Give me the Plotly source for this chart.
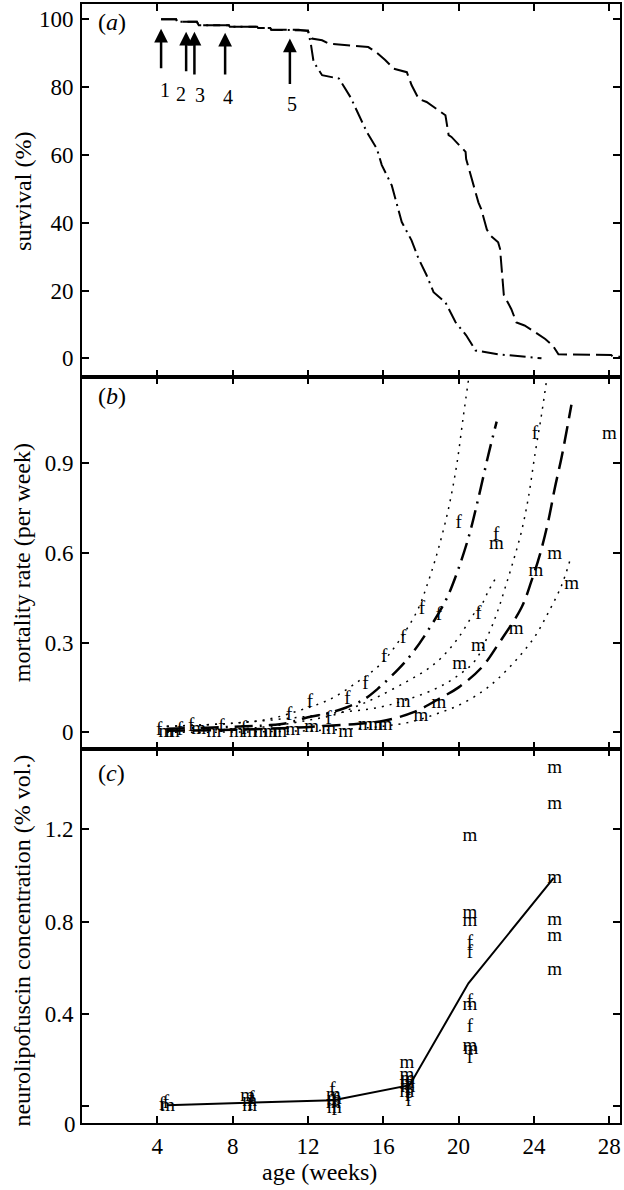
import plotly.graph_objects as go

FONT = "Liberation Serif"

# ---------------- panel (a): survival ----------------
early_weeks = [4.2, 5.0, 5.05, 6.1, 6.2, 7.8, 7.85, 9.3, 9.35, 10.0, 10.05, 11.5]
early_surv = [100, 100, 99.3, 99.3, 98.2, 98.2, 97.8, 97.8, 97.4, 97.4, 96.9, 96.9]

male_weeks = [12.0, 12.2, 12.75, 13.1, 15.2, 15.6, 16.1, 16.56, 17.25, 17.5, 17.88, 18.3,
              19.3, 19.47, 19.62, 20.37, 20.4, 21.05, 21.2, 21.5, 21.7, 22.1, 22.2, 22.4,
              22.6, 22.8, 23.07, 23.5, 24.07, 24.6, 25.0, 25.3, 28.1, 28.2, 28.57]
male_surv = [96.5, 94.3, 93.8, 92.8, 91.8, 90.4, 88.0, 85.4, 84.4, 80.6, 76.5, 75.6,
             71.7, 65.8, 65.3, 60.9, 58.8, 46.0, 44.0, 38.0, 36.2, 34.2, 32.3, 18.7,
             16.6, 14.5, 10.6, 9.7, 7.7, 5.7, 3.8, 1.2, 1.0, 0.5, 0.5]

female_weeks = [12.0, 12.15, 12.3, 12.75, 13.65, 14.26, 14.7, 15.13, 15.66, 15.92, 16.45,
                16.7, 16.98, 17.5, 17.88, 18.3, 18.67, 19.3, 19.57, 19.83, 20.4, 20.9,
                22.1, 24.2, 24.4]
female_surv = [96.7, 92.8, 87.4, 83.5, 82.5, 77.0, 71.7, 66.7, 61.8, 57.0, 51.0,
               46.0, 40.2, 34.8, 29.3, 24.5, 19.5, 16.5, 13.6, 10.7, 6.8, 2.3,
               1.2, 0.0, 0.0]

arrow_labels = ["1", "2", "3", "4", "5"]
arrow_weeks = [4.2, 5.53, 5.97, 7.6, 11.04]
arrow_tip = [97.2, 96.3, 96.3, 96.0, 94.3]
arrow_tail = [85.1, 84.2, 83.3, 83.3, 80.5]
arrow_label_weeks = [4.39, 5.27, 6.24, 7.74, 11.17]
arrow_label_y = [79.1, 78.0, 77.6, 77.1, 75.1]

# ---------------- panel (b): mortality rate ----------------
b_f_weeks = [4.1, 5.2, 5.8, 7.4, 8.6, 11.0, 12.1, 13.1, 14.1, 15.05, 16.05, 17.05,
             18.05, 18.95, 20.0, 21.05, 22.0, 24.05]
b_f_rates = [0.005, 0.005, 0.02, 0.015, 0.01, 0.056, 0.10, 0.045, 0.111, 0.161, 0.25, 0.314,
             0.41, 0.39, 0.70, 0.395, 0.66, 0.995]
b_m_weeks = [4.45, 4.8, 6.2, 7.0, 8.2, 8.9, 9.5, 10.0, 10.5, 11.2, 12.2, 13.1, 14.0,
             15.05, 15.6, 16.1, 17.05, 18.0, 18.95, 20.05, 21.05, 22.0, 23.05, 24.1,
             25.1, 26.0, 28.0]
b_m_rates = [0.0, 0.0, 0.01, 0.0, 0.0, 0.0, 0.0, 0.0, 0.0, 0.005, 0.017, 0.011, 0.0,
             0.022, 0.022, 0.022, 0.10, 0.053, 0.098, 0.228, 0.289, 0.628, 0.345, 0.539,
             0.595, 0.495, 0.995]

fit_f_weeks = [4.5, 6, 8, 10, 11, 12, 13, 14, 15, 15.7, 16.8, 17.5, 18.3, 19.3, 19.82,
               20.52, 21.05, 21.58, 22.02]
fit_f_rates = [0.012, 0.014, 0.018, 0.024, 0.032, 0.05, 0.063, 0.082, 0.111, 0.145, 0.211,
               0.261, 0.333, 0.439, 0.517, 0.65, 0.783, 0.928, 1.039]
up_f_weeks = [4.5, 8, 10, 11.5, 12.6, 13.47, 14.6, 15.76, 16.65, 17.8, 18.4, 18.94,
              19.47, 19.9, 20.26, 20.55]
up_f_rates = [0.02, 0.03, 0.045, 0.072, 0.095, 0.12, 0.167, 0.222, 0.289, 0.406, 0.506,
              0.617, 0.75, 0.895, 1.061, 1.19]
lo_f_weeks = [4.5, 8, 10, 12, 13.5, 14.7, 15.76, 17.17, 18.23, 19.1, 20.0, 20.8, 21.14,
              21.58, 21.93]
lo_f_rates = [0.005, 0.01, 0.02, 0.04, 0.06, 0.09, 0.12, 0.167, 0.206, 0.25, 0.317, 0.395,
              0.417, 0.472, 0.511]

fit_m_weeks = [4.5, 8, 10, 11.9, 13.1, 15.06, 16.1, 17.61, 19.11, 20.0, 21.23, 22.11,
               23.34, 23.87, 24.32, 24.76, 25.11, 25.46, 25.73, 25.99]
fit_m_rates = [0.005, 0.008, 0.012, 0.017, 0.022, 0.03, 0.039, 0.067, 0.117, 0.15, 0.217,
               0.295, 0.417, 0.506, 0.595, 0.706, 0.817, 0.917, 1.006, 1.095]
up_m_weeks = [4.5, 8, 11.5, 13.5, 15.76, 17.35, 18.76, 19.82, 20.87, 21.67, 22.1, 22.47,
              22.9, 23.34, 23.7, 24.05, 24.4, 24.7]
up_m_rates = [0.02, 0.03, 0.05, 0.065, 0.083, 0.111, 0.145, 0.183, 0.239, 0.34, 0.41,
              0.483, 0.572, 0.672, 0.783, 0.928, 1.061, 1.19]
lo_m_weeks = [4.5, 10, 14, 16, 17.5, 18.76, 20.0, 21.23, 22.11, 23.17, 24.05, 24.76,
              25.46, 25.9]
lo_m_rates = [0.0, 0.002, 0.01, 0.02, 0.035, 0.06, 0.09, 0.135, 0.18, 0.25, 0.32, 0.4,
              0.49, 0.572]

# ---------------- panel (c): neurolipofuscin ----------------
c_line_weeks = [4.5, 8.9, 13.35, 17.4, 20.52, 25.05]
c_line_vals = [0.003, 0.013, 0.025, 0.09, 0.532, 0.989]

c_f_weeks = [4.25, 4.45, 9.0, 8.95, 13.3, 13.45, 13.4, 17.3, 17.35, 17.3, 17.35,
             20.6, 20.6, 20.6, 20.6, 20.6]
c_f_vals = [0.005, 0.012, 0.03, 0.005, 0.07, 0.02, -0.02, 0.09, 0.07, 0.04, 0.02,
            0.706, 0.663, 0.45, 0.343, 0.206]
c_m_weeks = [4.55, 8.8, 8.9, 8.9, 13.35, 13.4, 13.35, 13.4, 17.25, 17.25, 17.3, 17.25,
             17.3, 17.25, 20.6, 20.6, 20.6, 20.6, 20.6, 20.65,
             25.1, 25.1, 25.1, 25.1, 25.1, 25.1]
c_m_vals = [0.0, 0.04, 0.02, 0.0, 0.045, 0.03, 0.01, -0.01, 0.184, 0.133, 0.115, 0.10,
            0.08, 0.06, 1.17, 0.837, 0.80, 0.438, 0.257, 0.245,
            1.467, 1.307, 0.989, 0.807, 0.735, 0.59]

x_ticks = [4, 8, 12, 16, 20, 24, 28]

# ---------------- layout helpers (pixel geometry) ----------------
L, R, T, B = 82, 2, 2, 67
W, H = 624, 1190
PW, PH = W - L - R, H - T - B


def px(xp):
    return (xp - L) / PW


def py(yp):
    return (H - B - yp) / PH


dom_c = [0, py(748)]
dom_b = [py(748), py(376)]
dom_a = [py(376), 1]

fig = go.Figure()

blk = "black"
# panel a (x3, y3)
fig.add_trace(go.Scatter(x=early_weeks + male_weeks, y=early_surv + male_surv, mode="lines",
                         line=dict(color=blk, width=2, dash="17px,6px"), xaxis="x3", yaxis="y3"))
fig.add_trace(go.Scatter(x=early_weeks + female_weeks, y=early_surv + female_surv, mode="lines",
                         line=dict(color=blk, width=2, dash="16px,5px,2px,5px"), xaxis="x3", yaxis="y3"))

# panel b (x2, y2)
dot = dict(color=blk, width=1.5, dash="2px,6px")
for xs, ys in [(up_f_weeks, up_f_rates), (lo_f_weeks, lo_f_rates),
               (up_m_weeks, up_m_rates), (lo_m_weeks, lo_m_rates)]:
    fig.add_trace(go.Scatter(x=xs, y=ys, mode="lines", line=dict(shape="spline", **dot),
                             xaxis="x2", yaxis="y2"))
fig.add_trace(go.Scatter(x=fit_f_weeks, y=fit_f_rates, mode="lines",
                         line=dict(color=blk, width=2.5, dash="18px,7px,2px,7px", shape="spline"),
                         xaxis="x2", yaxis="y2"))
fig.add_trace(go.Scatter(x=fit_m_weeks, y=fit_m_rates, mode="lines",
                         line=dict(color=blk, width=2.5, dash="18px,8px", shape="spline"),
                         xaxis="x2", yaxis="y2"))
tf = dict(family=FONT, size=19, color=blk)
fig.add_trace(go.Scatter(x=b_f_weeks, y=b_f_rates, mode="text", text=["f"] * len(b_f_weeks),
                         textfont=tf, xaxis="x2", yaxis="y2"))
fig.add_trace(go.Scatter(x=b_m_weeks, y=b_m_rates, mode="text", text=["m"] * len(b_m_weeks),
                         textfont=tf, xaxis="x2", yaxis="y2"))

# panel c (x, y)
fig.add_trace(go.Scatter(x=c_line_weeks, y=c_line_vals, mode="lines",
                         line=dict(color=blk, width=2), xaxis="x", yaxis="y"))
fig.add_trace(go.Scatter(x=c_f_weeks, y=c_f_vals, mode="text", text=["f"] * len(c_f_weeks),
                         textfont=tf, xaxis="x", yaxis="y"))
fig.add_trace(go.Scatter(x=c_m_weeks, y=c_m_vals, mode="text", text=["m"] * len(c_m_weeks),
                         textfont=tf, xaxis="x", yaxis="y"))

tickfont = dict(family=FONT, size=23, color=blk)
common = dict(ticks="inside", ticklen=7, tickwidth=2, tickcolor=blk, showline=True,
              linewidth=2, linecolor=blk, mirror="allticks", showgrid=False, zeroline=False,
              tickfont=tickfont)
xcommon = dict(range=[0, 28.57], tickvals=x_ticks, **common)

fig.update_layout(
    width=W, height=H, margin=dict(l=L, r=R, t=T, b=B),
    paper_bgcolor="white", plot_bgcolor="white", showlegend=False,
    xaxis=dict(anchor="y", ticklabelstandoff=1, **xcommon),
    xaxis2=dict(anchor="y2", showticklabels=False, matches="x", **xcommon),
    xaxis3=dict(anchor="y3", showticklabels=False, matches="x", **xcommon),
    yaxis=dict(domain=dom_c, anchor="x", range=[-0.074, 1.55], tickvals=[0, 0.4, 0.8, 1.2],
               ticktext=["", "0.4", "0.8", "1.2"], ticklabelstandoff=2, **common),
    yaxis2=dict(domain=dom_b, anchor="x2", range=[-0.055, 1.187], tickvals=[0, 0.3, 0.6, 0.9],
                ticktext=["0", "0.3", "0.6", "0.9"], ticklabelstandoff=2, **common),
    yaxis3=dict(domain=dom_a, anchor="x3", range=[-5.6, 104.5], tickvals=[0, 20, 40, 60, 80, 100],
                ticklabelstandoff=2, **common),
)

ann = []
# arrows in panel a
for wk, tip, tail in zip(arrow_weeks, arrow_tip, arrow_tail):
    ann.append(dict(x=wk, y=tip, ax=wk, ay=tail, xref="x3", yref="y3", axref="x3", ayref="y3",
                    showarrow=True, arrowhead=2, arrowsize=1.1, arrowwidth=2.5, arrowcolor=blk,
                    text=""))
for lab, wk, yy in zip(arrow_labels, arrow_label_weeks, arrow_label_y):
    ann.append(dict(x=wk, y=yy, xref="x3", yref="y3", text=lab, showarrow=False,
                    font=dict(family=FONT, size=20, color=blk)))

lab_font = dict(family=FONT, size=24, color=blk)
for t, yp in [("(<i>a</i>)", 20), ("(<i>b</i>)", 395), ("(<i>c</i>)", 772)]:
    ann.append(dict(x=px(96), y=py(yp), xref="paper", yref="paper", text=t, showarrow=False,
                    xanchor="left", yanchor="middle", font=lab_font))

for t, yp in [("survival (%)", 190), ("mortality rate (per week)", 562),
              ("neurolipofuscin concentration (% vol.)", 940)]:
    ann.append(dict(x=px(22), y=py(yp), xref="paper", yref="paper", text=t, showarrow=False,
                    textangle=-90, xanchor="center", yanchor="middle", font=lab_font))

ann.append(dict(x=px(320), y=py(1172), xref="paper", yref="paper", text="age (weeks)",
                showarrow=False, xanchor="center", yanchor="middle", font=lab_font))
ann.append(dict(x=px(78), y=py(1125), xref="paper", yref="paper", text="0",
                showarrow=False, xanchor="right", yanchor="middle", font=tickfont))

fig.update_layout(annotations=ann)
fig.write_html(
    "out.html",
    config={"displayModeBar": False},
    post_script="document.body.style.margin='0';document.body.style.overflow='hidden';",
)
